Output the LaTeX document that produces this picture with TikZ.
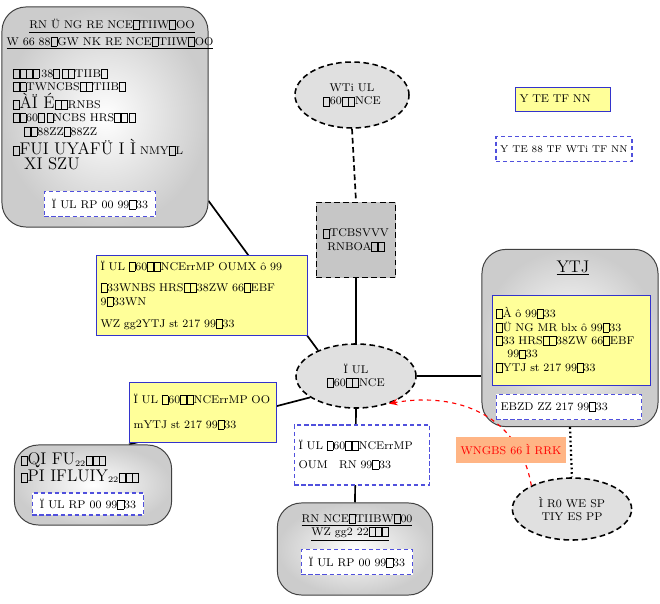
\documentclass[tikz,border=0pt]{standalone}
\usepackage{tikz}
\usetikzlibrary{positioning,arrows.meta,shapes.geometric,backgrounds,calc}
\definecolor{hlfill}{HTML}{FFFF99}
\definecolor{hlline}{HTML}{3333CC}
\definecolor{notec}{HTML}{5050DD}
\definecolor{topicbg}{HTML}{E0E0E0}
\definecolor{boxbg}{HTML}{C6C6C6}
\definecolor{salmon}{HTML}{FFB585}
\newcommand{\nd}{{\setlength{\fboxsep}{0.4pt}\setlength{\fboxrule}{0.4pt}\fbox{\rule{0pt}{1.5ex}\hspace{0.9ex}}}}

\begin{document}
\begin{tikzpicture}[x=0.025cm,y=-0.025cm,font=\footnotesize,>={Stealth[length=2.2mm]},
  panel/.style={draw=black!75,line width=0.7pt,rounded corners=0.6cm,inner color=white,outer color=black!20},
  hlbox/.style={draw=hlline,fill=hlfill,line width=0.6pt,align=left,inner xsep=3pt},
  notebox/.style={draw=notec,fill=white,dash pattern=on 3pt off 2pt,line width=0.8pt,align=left,inner xsep=3pt},
  topic/.style={ellipse,draw,dash pattern=on 4pt off 2.5pt,line width=1.1pt,fill=topicbg,align=center,inner sep=0pt},
  sqbox/.style={draw,dash pattern=on 4pt off 2.5pt,line width=1.1pt,fill=boxbg,align=center},
  link/.style={line width=1.2pt}]
\useasboundingbox (0,0) rectangle (660,604);
% upper left panel
\node[panel,minimum width=5.15cm,minimum height=5.5cm] (ulbox) at (105,117) {};
\node (ulhA) at (112,26) {\underline{RN Ü NG RE NCE\nd TIIW\nd OO}};
\node (ulhB) at (110,43) {\underline{W 66 88\nd GW NK RE NCE\nd TIIW\nd OO}};
\node[align=left,anchor=north west] (ullist) at (8,64) {\nd\nd\nd\nd\,38\nd\,\nd\nd TIIB\nd\\
  \nd\nd TWNCBS\nd\nd TIIB\nd\\
  \nd{\large ÀÏ É}\nd\nd RNBS\\
  \nd\nd 60\nd\,\nd NCBS HRS\nd\nd\,\nd\\
  \quad\nd\nd 88ZZ\nd 88ZZ\\[1pt]
  \nd{\large FUI UYAFÜ I Ì} NMY\nd L\\[1pt]
  \quad{\large XI SZU}};
\node[notebox,minimum width=2.78cm,minimum height=0.63cm] (ulnote) at (100,204) {Ï UL RP 00 99\nd 33};
% key
\node[hlbox,text width=2.17cm,minimum height=0.6cm] (keyA) at (563,99) {Y TE TF NN};
\node[notebox,font=\scriptsize,minimum width=3.23cm,minimum height=0.63cm] (keyB) at (564,149) {Y TE 88 TF WTi TF NN};
% topics
\node[topic,minimum width=2.85cm,minimum height=1.65cm] (topA) at (352,95) {WTi UL\\\nd 60\nd\nd NCE};
\node[sqbox,minimum width=1.98cm,minimum height=1.88cm] (sq) at (356,240) {\nd TCBSVVV\\RNBOA\nd\nd};
\node[topic,minimum width=3.0cm,minimum height=1.6cm] (hub) at (356,376) {Ï UL\\\nd 60\nd\nd NCE};
\node[hlbox,text width=5.07cm,minimum height=2.0cm] (hlA) at (202,295) {Ï UL \nd 60\nd\nd NCErrMP OUMX ô 99\\[6pt]
  \nd 33WNBS HRS\nd\nd 38ZW 66\nd EBF 9\nd 33WN\\[6pt]
  WZ gg2YTJ st 217 99\nd 33};
\node[hlbox,text width=3.47cm,minimum height=1.5cm] (hlB) at (203,412) {Ï UL \nd 60\nd\nd NCErrMP OO\\[8pt]
  mYTJ st 217 99\nd 33};
\node[notebox,text width=3.17cm,minimum height=1.5cm] (hubnote) at (362,455) {Ï UL \nd 60\nd\nd NCErrMP\\[4pt]
  OUM\quad RN 99\nd 33};
% bottom panel
\node[panel,minimum width=3.88cm,minimum height=2.3cm] (botbox) at (355,549) {};
\node (botA) at (357,520) {\underline{RN NCE\nd TIIBW\nd 00}};
\node (botB) at (350,534) {\underline{WZ gg2 22\nd\nd\nd}};
\node[notebox,minimum width=2.78cm,minimum height=0.63cm] (botnote) at (357,562) {Ï UL RP 00 99\nd 33};
% lower left panel
\node[panel,minimum width=3.93cm,minimum height=2.0cm] (llbox) at (93,485) {};
\node[align=left,anchor=north west] (lltext) at (16,448) {\nd{\large QI FU}\textsubscript{22}\nd\nd\nd\\
  \nd{\large PI IFLUIY}\textsubscript{22}\nd\nd\nd};
\node[notebox,minimum width=2.78cm,minimum height=0.55cm] (llnote) at (88,504) {Ï UL RP 00 99\nd 33};
% right panel
\node[panel,minimum width=4.4cm,minimum height=4.43cm] (rbox) at (570,338) {};
\node[font=\large] (rtitle) at (573,268) {\underline{YTJ}};
\node[hlbox,text width=3.74cm,minimum height=2.25cm] (rhl) at (571,340) {\nd À ô 99\nd 33\\
  \nd Ü NG MR blx ô 99\nd 33\\
  \nd 33 HRS\nd\nd 38ZW 66\nd EBF\\
  \quad 99\nd 33\\
  \nd YTJ st 217 99\nd 33};
\node[notebox,text width=3.42cm,minimum height=0.63cm] (rnote) at (569,407) {EBZD ZZ 217 99\nd 33};
\node[topic,minimum width=2.98cm,minimum height=1.55cm] (src) at (572,509) {Ì R0 WE SP\\TIY ES PP};
% links
\begin{scope}[on background layer]
\draw[link,dash pattern=on 4pt off 2.5pt] (topA.south) -- (sq.north);
\draw[link] (sq.south) -- (hub.north);
\draw[link] (ulbox.-39) -- (hub.146);
\draw[link] (hub.east) -- (hub.east -| rbox.west);
\draw[link] (hub.205) -- (hlB.south west |- llbox.north);
\draw[link] (hub.south) -- (botbox.north);
\draw[link,dotted,line width=1.6pt] (rbox.south) -- (src.north);
\end{scope}
\draw[->,red,dashed,line width=0.8pt] (src.150) to[out=100,in=10,looseness=1.1] (hub.-40);
\node[fill=salmon,text=red,minimum width=2.68cm,minimum height=0.65cm] (lab) at (511,450) {WNGBS 66 Ì RRK};
\end{tikzpicture}
\end{document}
